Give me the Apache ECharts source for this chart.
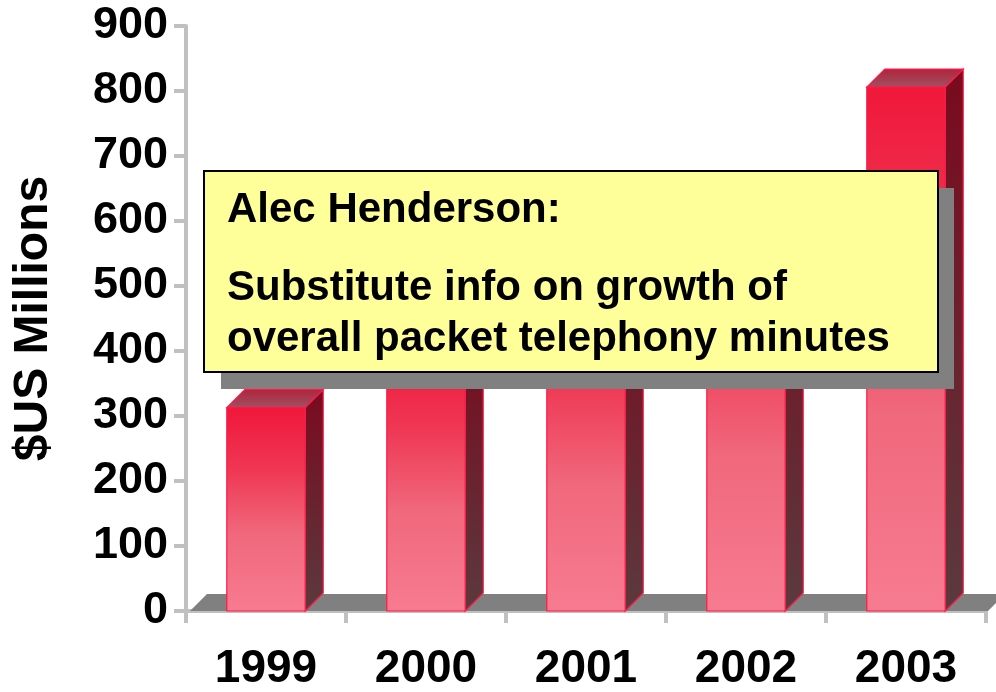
<!DOCTYPE html>
<html>
<head>
<meta charset="utf-8">
<script src="https://cdn.jsdelivr.net/npm/echarts@6/dist/echarts.min.js"></script>
<style>
  html, body { margin: 0; padding: 0; background: #ffffff; }
  #chart { width: 996px; height: 692px; }
</style>
</head>
<body>
<div id="chart"></div>
<script>
// Yearly revenue, $US millions
const years = ['1999', '2000', '2001', '2002', '2003'];
const revenue = [313, 405, 510, 630, 806];
const yTicks = [0, 100, 200, 300, 400, 500, 600, 700, 800, 900];
const noteTitle = 'Alec Henderson:';
const noteBody = ['Substitute info on growth of', 'overall packet telephony minutes'];

const FONT = '"Liberation Sans", Arial, Helvetica, sans-serif';
const DEPTH = 18;          // 3D extrusion offset in px
const BAR_RATIO = 0.49;    // bar width as a share of the category band

const frontFill = new echarts.graphic.LinearGradient(0, 0, 0, 1, [
  { offset: 0, color: '#f0173a' },
  { offset: 0.3, color: '#ef3653' },
  { offset: 0.62, color: '#f0687c' },
  { offset: 1, color: '#f77b90' }
]);
const sideFill = new echarts.graphic.LinearGradient(0, 0, 0, 1, [
  { offset: 0, color: '#7a0a1e' },
  { offset: 1, color: '#5a3a3e' }
]);
const topFill = new echarts.graphic.LinearGradient(0, 0, 0, 1, [
  { offset: 0, color: '#b0223c' },
  { offset: 1, color: '#a05262' }
]);
const EDGE = '#ff1848';

function renderBar(params, api) {
  const idx = api.value(0);
  const val = api.value(1);
  const top = api.coord([idx, val]);
  const base = api.coord([idx, 0]);
  const w = api.size([1, 0])[0] * BAR_RATIO;
  const l = top[0] - w / 2, r = top[0] + w / 2, t = top[1], b = base[1];
  const d = DEPTH;
  return {
    type: 'group',
    children: [
      {
        type: 'polygon',
        shape: { points: [[r, b], [r + d, b - d], [r + d, t - d], [r, t]] },
        style: { fill: sideFill, stroke: EDGE, lineWidth: 1.2 }
      },
      {
        type: 'polygon',
        shape: { points: [[l, t], [l + d, t - d], [r + d, t - d], [r, t]] },
        style: { fill: topFill, stroke: EDGE, lineWidth: 1.2 }
      },
      {
        type: 'rect',
        shape: { x: l, y: t, width: w, height: b - t },
        style: { fill: frontFill, stroke: EDGE, lineWidth: 1.2 }
      }
    ]
  };
}

// Gray floor slab under the bars, spanning the whole category axis
function renderFloor(params, api) {
  const band = api.size([1, 0])[0];
  const first = api.coord([0, 0]);
  const last = api.coord([years.length - 1, 0]);
  const x0 = first[0] - band / 2 + 4;
  const x1 = last[0] + band / 2 + 2;
  const y = first[1];
  const d = 17;
  return {
    type: 'polygon',
    shape: { points: [[x0, y], [x0 + d, y - d], [x1 + d, y - d], [x1, y]] },
    style: { fill: '#808080' }
  };
}

const chart = echarts.init(document.getElementById('chart'), null, { renderer: 'canvas' });

const NOTE_Z = 100;
const noteFont = 'bold 42px ' + FONT;

chart.setOption({
  animation: false,
  backgroundColor: '#ffffff',
  grid: { left: 186, right: 10, top: 26, bottom: 75, containLabel: false },
  xAxis: {
    type: 'category',
    data: years,
    boundaryGap: true,
    offset: 3,
    axisLine: { lineStyle: { color: '#c0c0c0', width: 4 } },
    axisTick: { show: true, length: 12, lineStyle: { color: '#c0c0c0', width: 4 } },
    axisLabel: {
      interval: 0, margin: 32, color: '#000000',
      fontFamily: FONT, fontWeight: 'bold', fontSize: 46
    }
  },
  yAxis: {
    type: 'value',
    min: yTicks[0],
    max: yTicks[yTicks.length - 1],
    interval: yTicks[1] - yTicks[0],
    name: '$US Millions',
    nameLocation: 'middle',
    nameGap: 128,
    nameTextStyle: { color: '#000000', fontFamily: FONT, fontWeight: 'bold', fontSize: 48 },
    splitLine: { show: false },
    axisLine: { show: true, lineStyle: { color: '#c0c0c0', width: 4 } },
    axisTick: { show: true, length: 12, lineStyle: { color: '#c0c0c0', width: 4 } },
    axisLabel: {
      margin: 18, color: '#000000',
      fontFamily: FONT, fontWeight: 'bold', fontSize: 45
    }
  },
  series: [
    {
      type: 'custom',
      name: 'floor',
      renderItem: renderFloor,
      data: [[0, 0]],
      z: 1,
      silent: true
    },
    {
      type: 'custom',
      name: 'Revenue',
      renderItem: renderBar,
      data: revenue.map((v, i) => [i, v]),
      encode: { x: 0, y: 1 },
      z: 2
    }
  ],
  // Callout note with a drop shadow, drawn above the bars
  graphic: [
    { type: 'rect', z: NOTE_Z, shape: { x: 221, y: 188, width: 733, height: 201 },
      style: { fill: '#808080' } },
    { type: 'rect', z: NOTE_Z + 1, shape: { x: 204, y: 171, width: 734, height: 201 },
      style: { fill: '#ffff99', stroke: '#000000', lineWidth: 2 } },
    { type: 'text', z: NOTE_Z + 2, x: 227, y: 210,
      style: { text: noteTitle, fill: '#000000', font: noteFont, verticalAlign: 'middle' } },
    { type: 'text', z: NOTE_Z + 2, x: 227, y: 288,
      style: { text: noteBody[0], fill: '#000000', font: noteFont, verticalAlign: 'middle' } },
    { type: 'text', z: NOTE_Z + 2, x: 227, y: 339,
      style: { text: noteBody[1], fill: '#000000', font: noteFont, verticalAlign: 'middle' } }
  ]
});
</script>
</body>
</html>
